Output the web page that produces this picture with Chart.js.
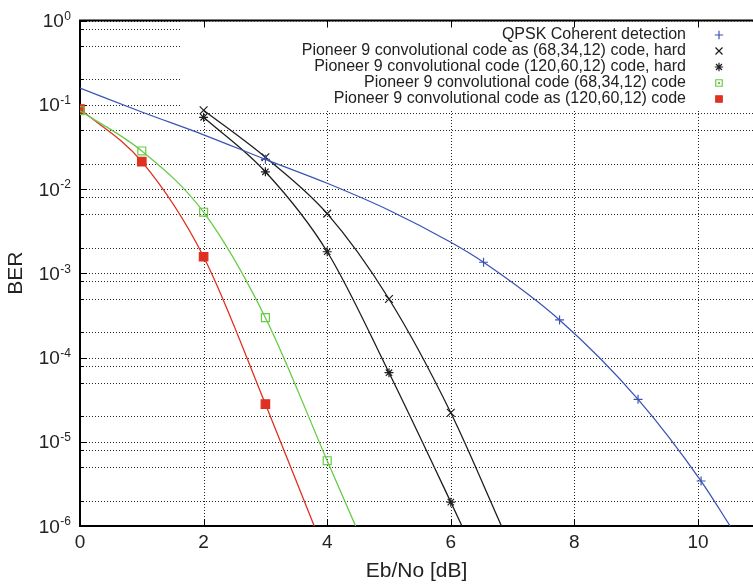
<!DOCTYPE html>
<html>
<head>
<meta charset="utf-8">
<script src="https://cdn.jsdelivr.net/npm/chart.js@4.4.0/dist/chart.umd.min.js"></script>
<style>
  html, body { margin: 0; padding: 0; background: #fff; }
  #wrap { width: 753px; height: 585px; }
</style>
</head>
<body>
<div id="wrap"><canvas id="berChart" width="753" height="585"></canvas></div>
<script>
// axis ticks
const xTicks = [0, 2, 4, 6, 8, 10];
const yDecades = [0, -1, -2, -3, -4, -5, -6];
const yGridMantissas = [1, 2, 5, 8];

// series (Eb/No in dB, BER)
const qpskX = [0, 1, 2, 3, 4, 5, 6, 6.53, 7.76, 9.03, 10.05, 10.52];
const qpskBer = [0.158, 0.082, 0.044, 0.0225, 0.0117, 0.0056, 0.00233, 0.00135, 0.000279, 0.0000319, 0.00000342, 0.000001];
const qpskMarkX = [3, 6.53, 7.76, 9.03, 10.05];

const hard68X = [2, 3, 4, 5, 6, 6.82];
const hard68Ber = [0.086, 0.0238, 0.0051, 0.000495, 0.0000221, 0.000001];
const hard68MarkX = [2, 3, 4, 5, 6];

const hard120X = [2, 3, 4, 5, 6, 6.18];
const hard120Ber = [0.071, 0.016, 0.0018, 0.000066, 0.00000192, 0.000001];
const hard120MarkX = [2, 3, 4, 5, 6];

const soft68X = [0, 1, 2, 3, 4, 4.46];
const soft68Ber = [0.085, 0.0283, 0.0053, 0.000297, 0.00000596, 0.000001];
const soft68MarkX = [0, 1, 2, 3, 4];

const soft120X = [0, 1, 2, 3, 3.79];
const soft120Ber = [0.089, 0.0211, 0.00157, 0.000028, 0.000001];
const soft120MarkX = [0, 1, 2, 3];

const seriesLabels = [
    'QPSK Coherent detection',
    'Pioneer 9 convolutional code as (68,34,12) code, hard',
    'Pioneer 9 convolutional code (120,60,12) code, hard',
    'Pioneer 9 convolutional code (68,34,12) code',
    'Pioneer 9 convolutional code as (120,60,12) code'
];

const FONT = '"Liberation Sans", Arial, sans-serif';
const TEXT = '#222';

function toPoints(xs, ys) {
    return xs.map((x, i) => ({ x: x, y: ys[i] }));
}

function makeSet(label, xs, ys, marks, color, style, radius, fill) {
    return {
        label: label,
        data: toPoints(xs, ys),
        borderColor: color,
        backgroundColor: fill,
        borderWidth: 1.3,
        pointStyle: style,
        pointRadius: ctx => (ctx.raw && marks.includes(ctx.raw.x)) ? radius : 0,
        pointBorderWidth: 1.2,
        pointBorderColor: color,
        pointBackgroundColor: fill,
        pointHoverRadius: 0,
        cubicInterpolationMode: 'monotone',
        fill: false
    };
}

const datasets = [
    makeSet(seriesLabels[0], qpskX, qpskBer, qpskMarkX, '#3b55b5', 'cross', 4.5, 'rgba(0,0,0,0)'),
    makeSet(seriesLabels[1], hard68X, hard68Ber, hard68MarkX, '#1e1e1e', 'crossRot', 5.5, 'rgba(0,0,0,0)'),
    makeSet(seriesLabels[2], hard120X, hard120Ber, hard120MarkX, '#1e1e1e', 'star', 4.5, 'rgba(0,0,0,0)'),
    makeSet(seriesLabels[3], soft68X, soft68Ber, soft68MarkX, '#66cc44', 'rect', 5.6, 'rgba(0,0,0,0)'),
    makeSet(seriesLabels[4], soft120X, soft120Ber, soft120MarkX, '#e03022', 'rect', 6, '#e03022')
];

//===============================================
// dotted grid, frame, inward ticks, legend box and tick labels (gnuplot look)
const legendBox = { left: 181, bottom: 109, textRight: 686, markX: 719, firstRow: 35, rowGap: 16 };

const framePlugin = {
    id: 'frame',
    beforeDatasetsDraw(chart) {
        const { ctx, chartArea: a, scales: { x, y } } = chart;
        ctx.save();

        // dotted grid
        ctx.strokeStyle = 'rgba(0,0,0,0.85)';
        ctx.lineWidth = 1;
        ctx.setLineDash([1, 2]);
        ctx.beginPath();
        y.ticks.forEach(t => {
            const py = Math.round(y.getPixelForValue(t.value)) + 0.5;
            ctx.moveTo(a.left, py); ctx.lineTo(a.right, py);
        });
        xTicks.forEach(v => {
            if (v === 0) return;
            const px = Math.round(x.getPixelForValue(v)) + 0.5;
            ctx.moveTo(px, a.bottom); ctx.lineTo(px, a.top);
        });
        ctx.stroke();
        ctx.setLineDash([]);

        // legend area hides the grid
        ctx.fillStyle = '#fff';
        ctx.fillRect(legendBox.left, a.top + 1, a.right - legendBox.left, legendBox.bottom - a.top);

        ctx.strokeStyle = '#000';
        ctx.beginPath();
        xTicks.forEach(v => {
            const px = Math.round(x.getPixelForValue(v)) + 0.5;
            ctx.moveTo(px, a.bottom); ctx.lineTo(px, a.bottom - 7);
            ctx.moveTo(px, a.top); ctx.lineTo(px, a.top + 7);
        });
        y.ticks.forEach(t => {
            const py = Math.round(y.getPixelForValue(t.value)) + 0.5;
            const len = Number.isInteger(Math.log10(t.value)) ? 7 : 4;
            ctx.moveTo(a.left, py); ctx.lineTo(a.left + len, py);
        });
        ctx.stroke();

        ctx.lineWidth = 2;
        ctx.beginPath();
        ctx.moveTo(a.right, a.top); ctx.lineTo(a.left, a.top);
        ctx.lineTo(a.left, a.bottom); ctx.lineTo(a.right, a.bottom);
        ctx.stroke();
        ctx.restore();
    },
    afterDraw(chart) {
        const { ctx, chartArea: a, scales: { x, y } } = chart;
        ctx.save();
        ctx.fillStyle = TEXT;
        ctx.textBaseline = 'middle';

        // x labels
        ctx.font = '19px ' + FONT;
        ctx.textAlign = 'center';
        xTicks.forEach(v => {
            ctx.fillText(String(v), x.getPixelForValue(v), a.bottom + 17);
        });

        // y labels 10^n
        yDecades.forEach(d => {
            const py = y.getPixelForValue(Math.pow(10, d));
            const exp = String(d);
            ctx.font = '12px ' + FONT;
            const ew = ctx.measureText(exp).width;
            const ex = 71 - ew;
            ctx.textAlign = 'left';
            ctx.fillText(exp, ex, py - 4);
            ctx.font = '19px ' + FONT;
            ctx.textAlign = 'right';
            ctx.fillText('10', ex - 0.5, py + 1.5);
        });

        // legend
        ctx.font = '16px ' + FONT;
        ctx.textAlign = 'right';
        chart.data.datasets.forEach((ds, i) => {
            const py = legendBox.firstRow + i * legendBox.rowGap;
            ctx.fillStyle = TEXT;
            ctx.fillText(ds.label, legendBox.textRight, py);
            const r = ds.pointStyle === 'rect' ? 4.6 : (ds.pointStyle === 'crossRot' ? 5 : 4.2);
            ctx.strokeStyle = ds.borderColor;
            ctx.fillStyle = ds.pointBackgroundColor;
            ctx.lineWidth = 1.2;
            Chart.helpers.drawPoint(ctx, { pointStyle: ds.pointStyle, radius: r, rotation: 0, borderWidth: 1.2 }, legendBox.markX, py);
            if (i === 3) {
                ctx.fillStyle = ds.borderColor;
                ctx.fillRect(legendBox.markX - 1, py - 1, 2, 2);
            }
        });
        ctx.restore();
    }
};

//===============================================
const ctx1 = document.getElementById('berChart').getContext('2d');
const berChart = new Chart(ctx1, {
    type: 'line',
    data: { datasets: datasets },
    options: {
        responsive: false,
        animation: false,
        events: [],
        layout: { autoPadding: false, padding: { top: 20.5, right: 0, left: 0, bottom: 0 } },
        plugins: {
            legend: { display: false },
            tooltip: { enabled: false }
        },
        scales: {
            x: {
                type: 'linear',
                min: 0,
                max: 10.89,
                afterBuildTicks: s => { s.ticks = xTicks.map(v => ({ value: v })); },
                afterFit: s => { s.height = 59; s.paddingLeft = 0; s.paddingRight = 0; },
                ticks: { display: false },
                grid: { display: false, drawTicks: false },
                border: { display: false },
                title: {
                    display: true,
                    text: 'Eb/No [dB]',
                    font: { family: FONT, size: 21 },
                    color: TEXT,
                    padding: { top: 0, bottom: 1 }
                }
            },
            y: {
                type: 'logarithmic',
                min: 1e-6,
                max: 1,
                afterBuildTicks: s => {
                    const ticks = [];
                    yDecades.forEach(d => {
                        yGridMantissas.forEach(m => {
                            const v = m * Math.pow(10, d);
                            if (v <= 1 && v >= 1e-6) ticks.push({ value: v });
                        });
                    });
                    s.ticks = ticks;
                },
                afterFit: s => { s.width = 80; s.paddingTop = 0; s.paddingBottom = 0; },
                ticks: { display: false },
                grid: { display: false, drawTicks: false },
                border: { display: false },
                title: {
                    display: true,
                    text: 'BER',
                    font: { family: FONT, size: 21 },
                    color: TEXT,
                    padding: { top: 4, bottom: 0 }
                }
            }
        }
    },
    plugins: [framePlugin]
});
</script>
</body>
</html>
